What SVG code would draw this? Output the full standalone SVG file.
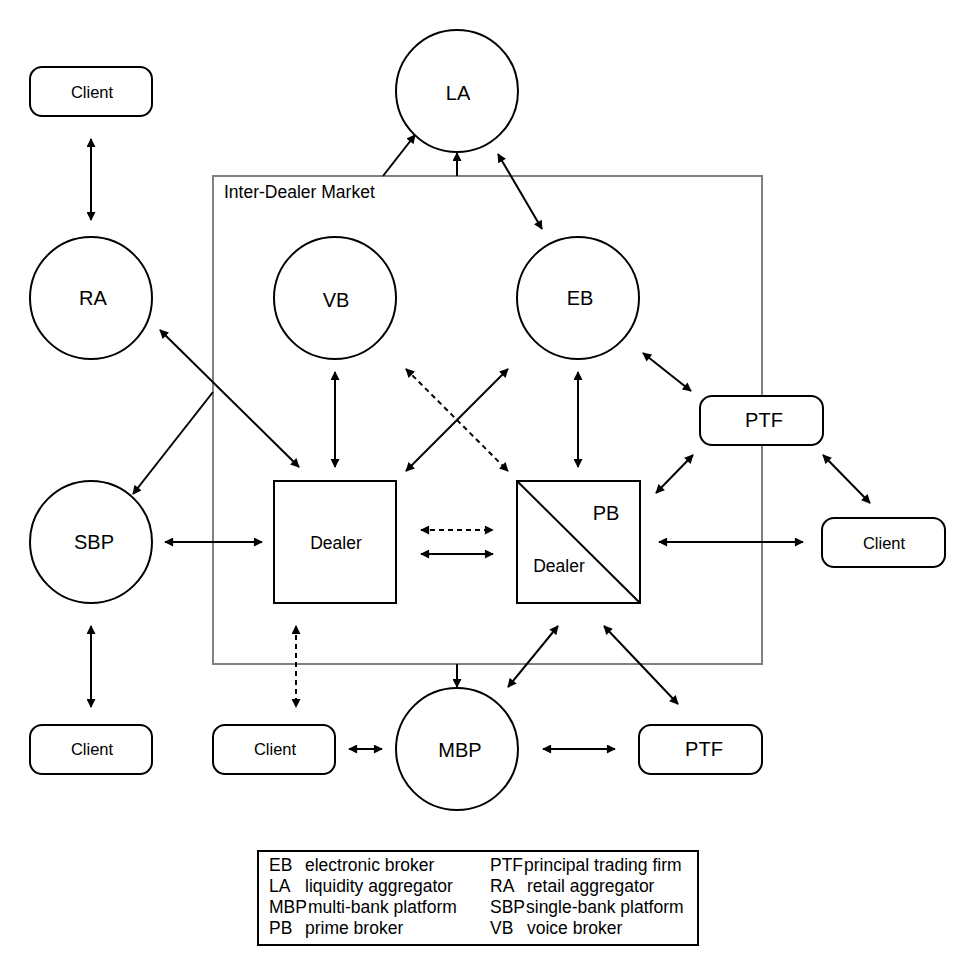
<svg xmlns="http://www.w3.org/2000/svg" width="977" height="977" viewBox="0 0 977 977">
  <style>
    .node { fill: #ffffff; stroke: #000000; stroke-width: 2; }
    .market { fill: none; stroke: #808080; stroke-width: 2; }
    .lbl { font-family: "Liberation Sans", Arial, sans-serif; fill: #000000; text-anchor: middle; }
    .big { font-size: 20px; }
    .small { font-size: 16.5px; }
    .dealer { font-size: 17.5px; }
    .conn { stroke: #000000; stroke-width: 2; fill: none; }
    .dash { stroke-dasharray: 5 4; }
    .legend { font-family: "Liberation Sans", Arial, sans-serif; font-size: 17.5px; fill: #000000; }
  </style>
  <defs>
    <marker id="arrow" viewBox="0 0 10 10" refX="9" refY="5" markerWidth="10" markerHeight="9" markerUnits="userSpaceOnUse" orient="auto-start-reverse">
      <path d="M0,0 L10,5 L0,10 z" fill="#000000"/>
    </marker>
  </defs>
  <rect width="977" height="977" fill="#ffffff"/>

  <!-- Inter-dealer market boundary -->
  <g id="inter-dealer-market">
    <rect class="market" x="213" y="176" width="549" height="488"/>
    <text class="legend" x="224" y="198">Inter-Dealer Market</text>
  </g>

  <!-- Connectors -->
  <g id="connectors">
    <line class="conn" x1="91" y1="139" x2="91" y2="220" marker-start="url(#arrow)" marker-end="url(#arrow)"/>
    <line class="conn" x1="383" y1="176" x2="415" y2="135" marker-end="url(#arrow)"/>
    <line class="conn" x1="457" y1="176" x2="457" y2="153" marker-end="url(#arrow)"/>
    <line class="conn" x1="498" y1="154" x2="542" y2="229" marker-start="url(#arrow)" marker-end="url(#arrow)"/>
    <line class="conn" x1="160" y1="330" x2="299" y2="467" marker-start="url(#arrow)" marker-end="url(#arrow)"/>
    <line class="conn" x1="213" y1="392" x2="133" y2="494" marker-end="url(#arrow)"/>
    <line class="conn" x1="335" y1="372" x2="335" y2="467" marker-start="url(#arrow)" marker-end="url(#arrow)"/>
    <line class="conn dash" x1="406" y1="369" x2="508" y2="471" marker-start="url(#arrow)" marker-end="url(#arrow)"/>
    <line class="conn" x1="508" y1="369" x2="406" y2="471" marker-start="url(#arrow)" marker-end="url(#arrow)"/>
    <line class="conn" x1="578" y1="372" x2="578" y2="467" marker-start="url(#arrow)" marker-end="url(#arrow)"/>
    <line class="conn" x1="643" y1="353" x2="691" y2="391" marker-start="url(#arrow)" marker-end="url(#arrow)"/>
    <line class="conn" x1="693" y1="455" x2="656" y2="493" marker-start="url(#arrow)" marker-end="url(#arrow)"/>
    <line class="conn" x1="823" y1="455" x2="870" y2="503" marker-start="url(#arrow)" marker-end="url(#arrow)"/>
    <line class="conn" x1="659" y1="542" x2="803" y2="542" marker-start="url(#arrow)" marker-end="url(#arrow)"/>
    <line class="conn dash" x1="421" y1="530" x2="493" y2="530" marker-start="url(#arrow)" marker-end="url(#arrow)"/>
    <line class="conn" x1="421" y1="554" x2="493" y2="554" marker-start="url(#arrow)" marker-end="url(#arrow)"/>
    <line class="conn" x1="165" y1="542" x2="262" y2="542" marker-start="url(#arrow)" marker-end="url(#arrow)"/>
    <line class="conn" x1="91" y1="626" x2="91" y2="707" marker-start="url(#arrow)" marker-end="url(#arrow)"/>
    <line class="conn dash" x1="296" y1="626" x2="296" y2="707" marker-start="url(#arrow)" marker-end="url(#arrow)"/>
    <line class="conn" x1="457" y1="664" x2="457" y2="687" marker-end="url(#arrow)"/>
    <line class="conn" x1="558" y1="626" x2="508" y2="687" marker-start="url(#arrow)" marker-end="url(#arrow)"/>
    <line class="conn" x1="604" y1="626" x2="678" y2="704" marker-start="url(#arrow)" marker-end="url(#arrow)"/>
    <line class="conn" x1="349" y1="749" x2="382" y2="749" marker-start="url(#arrow)" marker-end="url(#arrow)"/>
    <line class="conn" x1="543" y1="749" x2="615" y2="749" marker-start="url(#arrow)" marker-end="url(#arrow)"/>
  </g>

  <!-- Nodes -->
  <g id="client-top">
    <rect class="node" x="30" y="67" width="122" height="49" rx="12"/>
    <text class="lbl small" x="92" y="98">Client</text>
  </g>
  <g id="la">
    <circle class="node" cx="457" cy="91" r="61"/>
    <text class="lbl big" x="458" y="100">LA</text>
  </g>
  <g id="ra">
    <circle class="node" cx="91" cy="298" r="61"/>
    <text class="lbl big" x="93" y="305">RA</text>
  </g>
  <g id="vb">
    <circle class="node" cx="335" cy="298" r="61"/>
    <text class="lbl big" x="336" y="307">VB</text>
  </g>
  <g id="eb">
    <circle class="node" cx="578" cy="298" r="61"/>
    <text class="lbl big" x="580" y="305">EB</text>
  </g>
  <g id="ptf-right">
    <rect class="node" x="700" y="396" width="123" height="49" rx="12"/>
    <text class="lbl big" x="764" y="427">PTF</text>
  </g>
  <g id="sbp">
    <circle class="node" cx="91" cy="542" r="61"/>
    <text class="lbl big" x="94" y="549">SBP</text>
  </g>
  <g id="dealer">
    <rect class="node" x="274" y="481" width="122" height="122"/>
    <text class="lbl dealer" x="336" y="549">Dealer</text>
  </g>
  <g id="pb-dealer">
    <rect class="node" x="517" y="481" width="123" height="122"/>
    <line class="conn" x1="517" y1="481" x2="640" y2="603"/>
    <text class="lbl big" x="606" y="520">PB</text>
    <text class="lbl dealer" x="559" y="572">Dealer</text>
  </g>
  <g id="client-right">
    <rect class="node" x="822" y="518" width="123" height="49" rx="12"/>
    <text class="lbl small" x="884" y="549">Client</text>
  </g>
  <g id="client-bottom-left">
    <rect class="node" x="30" y="725" width="122" height="49" rx="12"/>
    <text class="lbl small" x="92" y="755">Client</text>
  </g>
  <g id="client-bottom">
    <rect class="node" x="213" y="725" width="122" height="49" rx="12"/>
    <text class="lbl small" x="275" y="755">Client</text>
  </g>
  <g id="mbp">
    <circle class="node" cx="457" cy="749" r="61"/>
    <text class="lbl big" x="460" y="757">MBP</text>
  </g>
  <g id="ptf-bottom">
    <rect class="node" x="639" y="725" width="123" height="49" rx="12"/>
    <text class="lbl big" x="704" y="756">PTF</text>
  </g>

  <!-- Abbreviation key -->
  <g id="legend">
    <rect x="258" y="851" width="440" height="94" fill="#ffffff" stroke="#000000" stroke-width="2"/>
    <text class="legend" x="269" y="871">EB</text>
    <text class="legend" x="305" y="871">electronic broker</text>
    <text class="legend" x="269" y="892">LA</text>
    <text class="legend" x="305" y="892">liquidity aggregator</text>
    <text class="legend" x="269" y="913">MBP</text>
    <text class="legend" x="308" y="913">multi-bank platform</text>
    <text class="legend" x="269" y="934">PB</text>
    <text class="legend" x="305" y="934">prime broker</text>
    <text class="legend" x="490" y="871">PTF</text>
    <text class="legend" x="524" y="871">principal trading firm</text>
    <text class="legend" x="490" y="892">RA</text>
    <text class="legend" x="527" y="892">retail aggregator</text>
    <text class="legend" x="490" y="913">SBP</text>
    <text class="legend" x="526" y="913">single-bank platform</text>
    <text class="legend" x="490" y="934">VB</text>
    <text class="legend" x="527" y="934">voice broker</text>
  </g>
</svg>
